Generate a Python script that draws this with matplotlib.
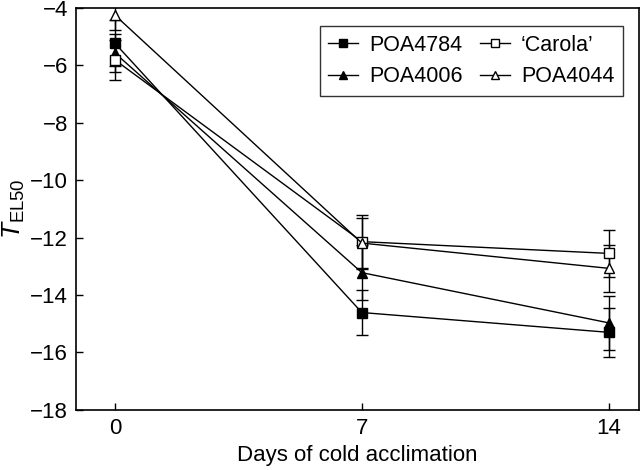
import matplotlib
matplotlib.use("Agg")
import matplotlib.pyplot as plt

plt.rcParams['font.family'] = ['Liberation Sans', 'DejaVu Sans']
plt.rcParams['mathtext.fontset'] = 'custom'
plt.rcParams['mathtext.rm'] = 'Liberation Sans'
plt.rcParams['mathtext.it'] = 'Liberation Sans:italic'

days = [0, 7, 14]
series_names = ["POA4784", "POA4006", "\u2018Carola\u2019", "POA4044"]
poa4784 = [-5.23, -14.61, -15.30]
poa4784_err = [0.80, 0.80, 0.85]
poa4006 = [-5.57, -13.22, -14.97]
poa4006_err = [0.65, 0.95, 0.93]
carola = [-5.81, -12.14, -12.55]
carola_err = [0.70, 0.93, 0.82]
poa4044 = [-4.25, -12.19, -13.07]
poa4044_err = [0.50, 0.89, 0.82]

values = [poa4784, poa4006, carola, poa4044]
errors = [poa4784_err, poa4006_err, carola_err, poa4044_err]
markers = ['s', '^', 's', '^']
faces = ['black', 'black', 'white', 'white']

fig = plt.figure(figsize=(6.4, 4.7), dpi=100)
ax = fig.add_axes([0.119, 0.128, 0.879, 0.855])

for name, v, e, m, fc in zip(series_names, values, errors, markers, faces):
    ax.errorbar(days, v, yerr=e, color='black', lw=1.0, elinewidth=1.0,
                capsize=4, capthick=1.0, marker=m, markersize=7.5,
                markerfacecolor=fc, markeredgecolor='black', markeredgewidth=1.0,
                label=name, zorder=3)

ax.set_xlim(-1.1, 14.85)
ax.set_ylim(-18, -4)
ax.set_xticks([0, 7, 14])
ax.set_yticks(range(-18, -3, 2))
ax.set_yticklabels(["\u2212%d" % abs(t) for t in range(-18, -3, 2)])
ax.tick_params(direction='in', length=5, width=1, labelsize=16, pad=6)
for s in ax.spines.values():
    s.set_linewidth(1.2)

ax.set_xlabel("Days of cold acclimation", fontsize=16, labelpad=4)
ax.set_ylabel(r"$\mathit{T}_{\rm EL50}$", fontsize=19, labelpad=2)

handles, labels = ax.get_legend_handles_labels()
handles = [h[0] for h in handles]
leg = ax.legend(handles, labels, ncol=2, loc='upper right', fontsize=15.5,
                frameon=True, fancybox=False, edgecolor='black',
                handlelength=1.4, handletextpad=0.5, columnspacing=0.8,
                borderpad=0.4, labelspacing=0.5, markerscale=0.75,
                borderaxespad=0, bbox_to_anchor=(0.9716, 0.955))
leg.get_frame().set_linewidth(1.0)

fig.savefig("out.png", dpi=100)
